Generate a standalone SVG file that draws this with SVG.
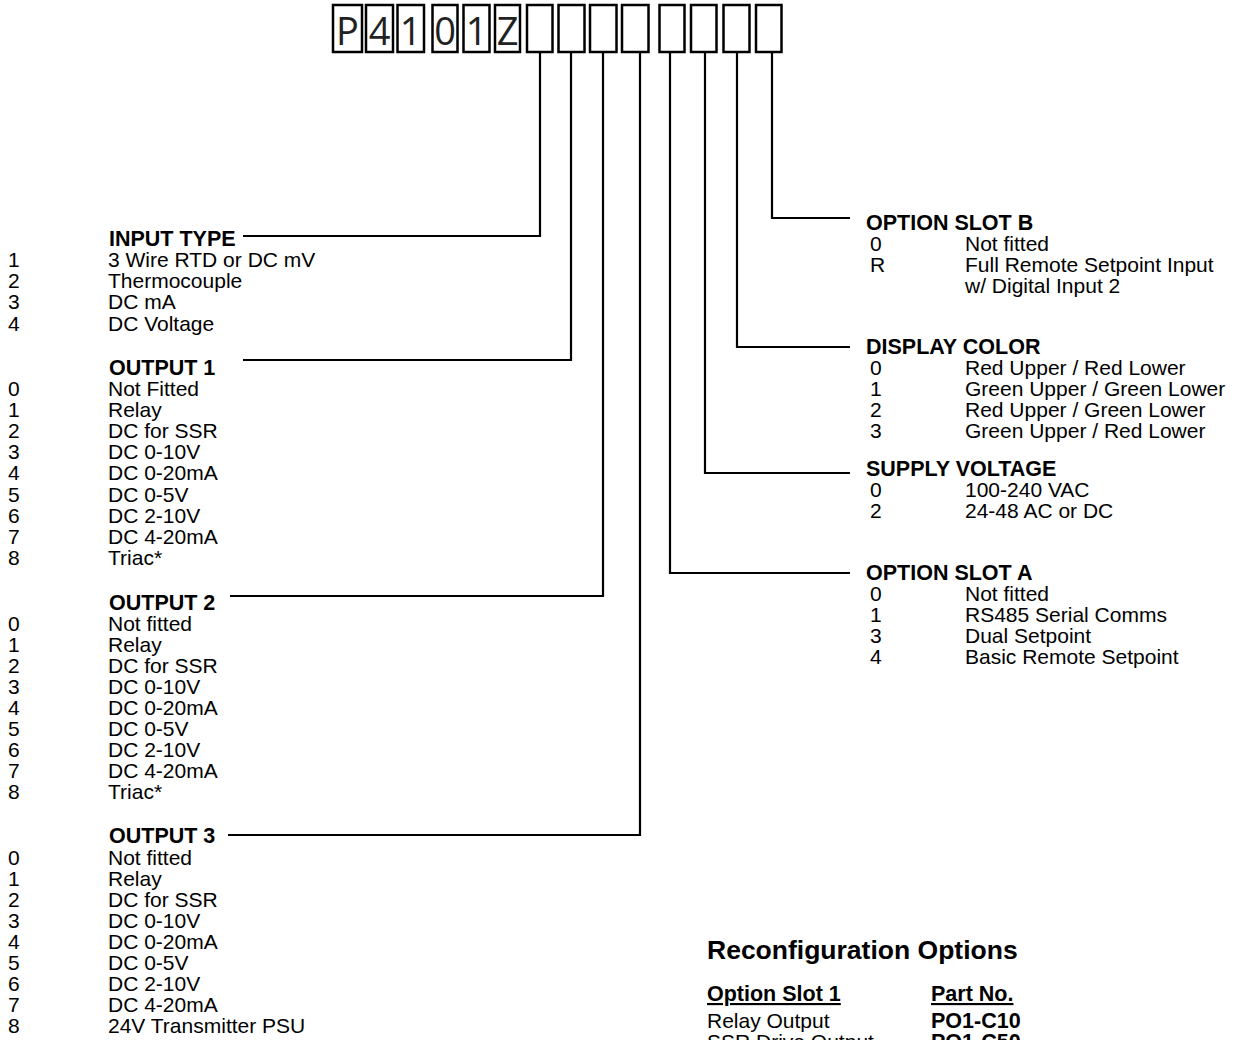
<svg xmlns="http://www.w3.org/2000/svg" width="1235" height="1040" viewBox="0 0 1235 1040">
<style>
.bx{fill:#fff;stroke:#000;stroke-width:2.5}
.bt{font-family:"Open Sans","DejaVu Sans",sans-serif;font-size:38px;fill:#222;text-anchor:middle}
.t{font-family:"Liberation Sans",Arial,sans-serif;font-size:21px;fill:#000}
.h{font-family:"Liberation Sans",Arial,sans-serif;font-size:21.5px;font-weight:bold;fill:#000}
.c{fill:none;stroke:#000;stroke-width:2.2}
.ti{font-family:"Liberation Sans",Arial,sans-serif;font-size:26.5px;font-weight:bold;fill:#000}
</style>
<rect width="1235" height="1040" fill="#fff"/>
<g id="code">
<rect class="bx" x="333" y="5" width="29" height="47"/><text class="bt" x="347.5" y="45">P</text>
<rect class="bx" x="366" y="5" width="27" height="47"/><text class="bt" x="379.5" y="45">4</text>
<rect class="bx" x="397.5" y="5" width="26.5" height="47"/><text class="bt" x="410.7" y="45">1</text>
<rect class="bx" x="432.5" y="5" width="25" height="47"/><text class="bt" x="445" y="45">0</text>
<rect class="bx" x="463.5" y="5" width="26" height="47"/><text class="bt" x="476.5" y="45">1</text>
<rect class="bx" x="495" y="5" width="25" height="47"/><text class="bt" x="507.5" y="45">Z</text>
<rect class="bx" x="527" y="5" width="25.5" height="47"/>
<rect class="bx" x="558.5" y="5" width="26" height="47"/>
<rect class="bx" x="590" y="5" width="26.5" height="47"/>
<rect class="bx" x="622" y="5" width="26.5" height="47"/>
<rect class="bx" x="659.5" y="5" width="25" height="47"/>
<rect class="bx" x="691" y="5" width="25.5" height="47"/>
<rect class="bx" x="723.5" y="5" width="26" height="47"/>
<rect class="bx" x="756" y="5" width="25.5" height="47"/>
</g>
<g id="connectors">
<polyline class="c" points="243,236 540,236 540,52"/>
<polyline class="c" points="243,360 571,360 571,52"/>
<polyline class="c" points="230,596 603,596 603,52"/>
<polyline class="c" points="228,835 640,835 640,52"/>
<polyline class="c" points="670,52 670,573 850,573"/>
<polyline class="c" points="705,52 705,473 850,473"/>
<polyline class="c" points="737,52 737,347 850,347"/>
<polyline class="c" points="772,52 772,218 850,218"/>
</g>
<g id="input-type">
<text class="h" x="109" y="246">INPUT TYPE</text>
<text class="t" x="8" y="267">1</text><text class="t" x="108" y="267">3 Wire RTD or DC mV</text>
<text class="t" x="8" y="288.2">2</text><text class="t" x="108" y="288.2">Thermocouple</text>
<text class="t" x="8" y="309.4">3</text><text class="t" x="108" y="309.4">DC mA</text>
<text class="t" x="8" y="330.6">4</text><text class="t" x="108" y="330.6">DC Voltage</text>
</g>
<g id="output-1">
<text class="h" x="109" y="375">OUTPUT 1</text>
<text class="t" x="8" y="396">0</text><text class="t" x="108" y="396">Not Fitted</text>
<text class="t" x="8" y="417.1">1</text><text class="t" x="108" y="417.1">Relay</text>
<text class="t" x="8" y="438.2">2</text><text class="t" x="108" y="438.2">DC for SSR</text>
<text class="t" x="8" y="459.3">3</text><text class="t" x="108" y="459.3">DC 0-10V</text>
<text class="t" x="8" y="480.4">4</text><text class="t" x="108" y="480.4">DC 0-20mA</text>
<text class="t" x="8" y="501.5">5</text><text class="t" x="108" y="501.5">DC 0-5V</text>
<text class="t" x="8" y="522.6">6</text><text class="t" x="108" y="522.6">DC 2-10V</text>
<text class="t" x="8" y="543.7">7</text><text class="t" x="108" y="543.7">DC 4-20mA</text>
<text class="t" x="8" y="564.8">8</text><text class="t" x="108" y="564.8">Triac*</text>
</g>
<g id="output-2">
<text class="h" x="109" y="609.5">OUTPUT 2</text>
<text class="t" x="8" y="630.5">0</text><text class="t" x="108" y="630.5">Not fitted</text>
<text class="t" x="8" y="651.6">1</text><text class="t" x="108" y="651.6">Relay</text>
<text class="t" x="8" y="672.7">2</text><text class="t" x="108" y="672.7">DC for SSR</text>
<text class="t" x="8" y="693.8">3</text><text class="t" x="108" y="693.8">DC 0-10V</text>
<text class="t" x="8" y="714.9">4</text><text class="t" x="108" y="714.9">DC 0-20mA</text>
<text class="t" x="8" y="736">5</text><text class="t" x="108" y="736">DC 0-5V</text>
<text class="t" x="8" y="757.1">6</text><text class="t" x="108" y="757.1">DC 2-10V</text>
<text class="t" x="8" y="778.2">7</text><text class="t" x="108" y="778.2">DC 4-20mA</text>
<text class="t" x="8" y="799.3">8</text><text class="t" x="108" y="799.3">Triac*</text>
</g>
<g id="output-3">
<text class="h" x="109" y="843">OUTPUT 3</text>
<text class="t" x="8" y="864.5">0</text><text class="t" x="108" y="864.5">Not fitted</text>
<text class="t" x="8" y="885.6">1</text><text class="t" x="108" y="885.6">Relay</text>
<text class="t" x="8" y="906.7">2</text><text class="t" x="108" y="906.7">DC for SSR</text>
<text class="t" x="8" y="927.8">3</text><text class="t" x="108" y="927.8">DC 0-10V</text>
<text class="t" x="8" y="948.9">4</text><text class="t" x="108" y="948.9">DC 0-20mA</text>
<text class="t" x="8" y="970">5</text><text class="t" x="108" y="970">DC 0-5V</text>
<text class="t" x="8" y="991.1">6</text><text class="t" x="108" y="991.1">DC 2-10V</text>
<text class="t" x="8" y="1012.2">7</text><text class="t" x="108" y="1012.2">DC 4-20mA</text>
<text class="t" x="8" y="1033.3">8</text><text class="t" x="108" y="1033.3">24V Transmitter PSU</text>
</g>
<g id="option-slot-b">
<text class="h" x="866" y="230">OPTION SLOT B</text>
<text class="t" x="870" y="251">0</text><text class="t" x="965" y="251">Not fitted</text>
<text class="t" x="870" y="272">R</text><text class="t" x="965" y="272">Full Remote Setpoint Input</text>
<text class="t" x="965" y="293">w/ Digital Input 2</text>
</g>
<g id="display-color">
<text class="h" x="866" y="354">DISPLAY COLOR</text>
<text class="t" x="870" y="375">0</text><text class="t" x="965" y="375">Red Upper / Red Lower</text>
<text class="t" x="870" y="396">1</text><text class="t" x="965" y="396">Green Upper / Green Lower</text>
<text class="t" x="870" y="417">2</text><text class="t" x="965" y="417">Red Upper / Green Lower</text>
<text class="t" x="870" y="438">3</text><text class="t" x="965" y="438">Green Upper / Red Lower</text>
</g>
<g id="supply-voltage">
<text class="h" x="866" y="476">SUPPLY VOLTAGE</text>
<text class="t" x="870" y="497">0</text><text class="t" x="965" y="497">100-240 VAC</text>
<text class="t" x="870" y="518">2</text><text class="t" x="965" y="518">24-48 AC or DC</text>
</g>
<g id="option-slot-a">
<text class="h" x="866" y="580">OPTION SLOT A</text>
<text class="t" x="870" y="601">0</text><text class="t" x="965" y="601">Not fitted</text>
<text class="t" x="870" y="622">1</text><text class="t" x="965" y="622">RS485 Serial Comms</text>
<text class="t" x="870" y="643">3</text><text class="t" x="965" y="643">Dual Setpoint</text>
<text class="t" x="870" y="664">4</text><text class="t" x="965" y="664">Basic Remote Setpoint</text>
</g>
<g id="reconfiguration">
<text class="ti" x="707" y="959">Reconfiguration Options</text>
<text class="h" x="707" y="1001" text-decoration="underline">Option Slot 1</text>
<text class="h" x="931" y="1001" text-decoration="underline">Part No.</text>
<text class="t" x="707" y="1028">Relay Output</text>
<text class="h" x="931" y="1028">PO1-C10</text>
<text class="t" x="707" y="1049">SSR Drive Output</text>
<text class="h" x="931" y="1049">PO1-C50</text>
</g>
</svg>
